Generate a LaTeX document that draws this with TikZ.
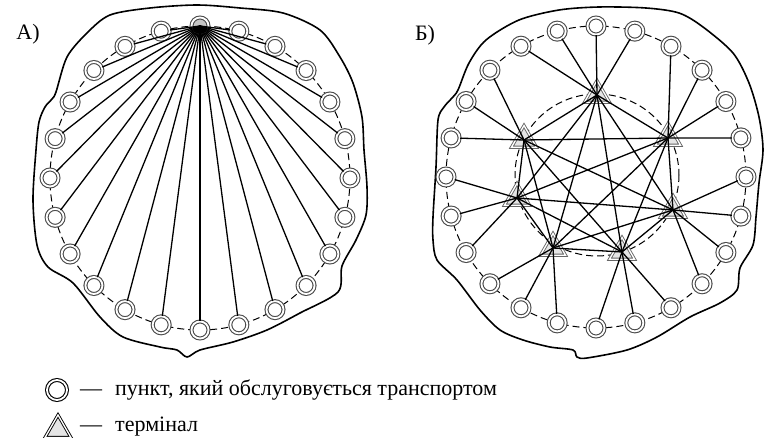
\documentclass[tikz,border=0pt]{standalone}
\usepackage{fontspec}
\setmainfont{Liberation Serif}
\usetikzlibrary{positioning, shapes.geometric, calc}

\begin{document}
\begin{tikzpicture}[
    x=1pt, y=-1pt,
    font=\fontsize{22}{26}\selectfont,
    pnt/.style={circle, draw=black!70, double=white, double distance=1.8pt, line width=1.1pt, minimum size=17pt, inner sep=0pt, fill=white},
    hub/.style={pnt, fill=gray!45},
    term/.style={regular polygon, regular polygon sides=3, draw=black!60, double=white, double distance=1.3pt, line width=0.9pt, minimum size=29pt, inner sep=0pt, fill=gray!20},
    link/.style={line width=1.3pt},
    ring/.style={line width=1pt, dash pattern=on 7pt off 4pt},
    coast/.style={line width=1.6pt, line join=round},
    legtext/.style={anchor=west, inner sep=0pt}
]

\useasboundingbox (0,0) rectangle (772,438);

% Outlines
\draw[coast] plot[smooth cycle, tension=0.5] coordinates {
    (110,15) (150,8) (197,5) (240,8) (283,13) (320,30) (340,57) (353,83)
    (362,117) (364,150) (367,187) (366,215) (356,240) (342,266) (338,292)
    (300,313) (267,330) (233,342) (200,350) (187,357) (177,350) (160,347)
    (123,337) (100,317) (73,283) (48,267) (37,245) (33,200) (36,150)
    (39,122) (45,107) (52,99) (56,92) (67,57) (87,33)};
\draw[coast] plot[smooth cycle, tension=0.5] coordinates {
    (519,20) (559,10) (599,7) (646,8) (679,13) (703,27) (733,53) (749,83)
    (759,117) (763,150) (759,183) (756,217) (753,245) (740,268) (737,290)
    (720,303) (690,317) (657,337) (627,350) (587,358) (577,357) (573,350)
    (550,347) (523,340) (500,330) (480,310) (457,280) (437,260) (433,240)
    (433,217) (436,167) (438,120) (444,107) (452,98) (458,90) (469,63) (486,40)};

% Panel A
\coordinate (ca) at (200,178);
\node (labA) at (28,34) {А)};
\draw[ring] (ca) ellipse (150 and 152);
\node[hub] (a0) at ($(ca)+(0,-152)$) {};
\foreach \k in {1,...,23}
    \node[pnt] (a\k) at ($(ca)+({150*cos(15*\k-90)},{152*sin(15*\k-90)})$) {};
\foreach \k in {1,...,23}
    \draw[link] (a0.center) -- (a\k);

% Panel B
\coordinate (cb) at (596,177);
\node (labB) at (425,35) {Б)};
\draw[ring] (cb) ellipse (150 and 151);
\draw[ring] (597,175) ellipse (82 and 81);
\foreach \k in {0,...,23}
    \node[pnt] (b\k) at ($(cb)+({150*cos(15*\k-90)},{151*sin(15*\k-90)})$) {};

% Terminals
\node[term] (t1) at (597,95) {};
\node[term] (t2) at (524,140) {};
\node[term] (t3) at (668,138) {};
\node[term] (t4) at (517,198) {};
\node[term] (t5) at (673,210) {};
\node[term] (t6) at (553,248) {};
\node[term] (t7) at (622,252) {};

\foreach \i in {1,...,6} {
    \pgfmathtruncatemacro\nxt{\i+1}
    \foreach \j in {\nxt,...,7}
        \draw[link] (t\i.center) -- (t\j.center);
}
\foreach \k/\t in {22/1, 23/1, 0/1, 1/1, 2/3, 3/3, 4/3, 5/3, 6/5, 7/5, 8/5, 9/5,
                   10/7, 11/7, 12/7, 13/6, 14/6, 15/6, 16/4, 17/4, 18/4, 19/2, 20/2, 21/2}
    \draw[link] (b\k) -- (t\t.center);

% Legend
\node[pnt, draw=black, minimum size=20pt] (legpt) at (57,390) {};
\node[legtext] (legpttxt) at (80,390) {—\hspace{13pt}пункт, який обслуговується транспортом};
\node[term, draw=black, minimum size=30pt] (legterm) at (58,430) {};
\node[legtext] (legtermtxt) at (80,427) {—\hspace{13pt}термінал};

\end{tikzpicture}
\end{document}
